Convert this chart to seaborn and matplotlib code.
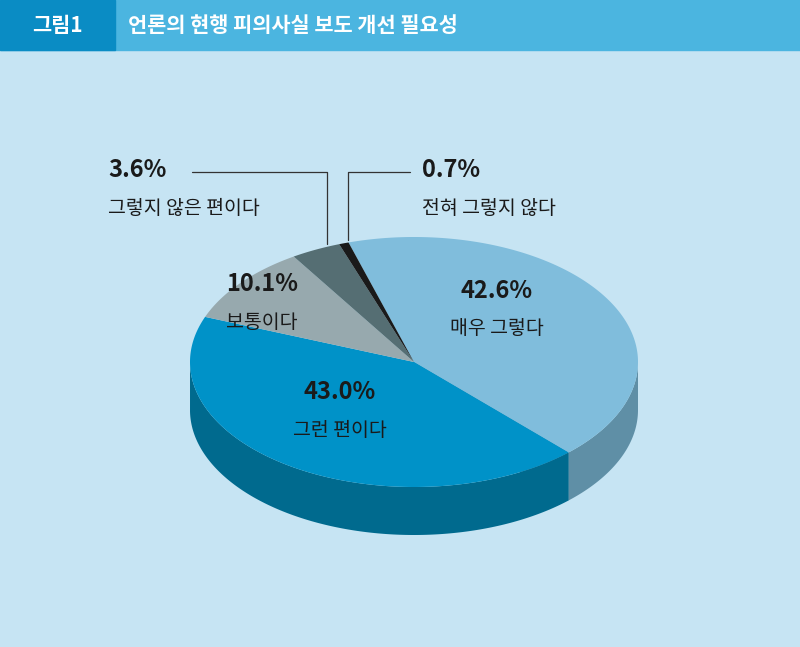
import numpy as np
import matplotlib
matplotlib.use("Agg")
import matplotlib.pyplot as plt
import seaborn as sns
from matplotlib.patches import Polygon, Rectangle

sns.set_theme(style="white")
plt.rcParams["font.family"] = ["Noto Sans CJK KR", "Noto Sans CJK JP", "Noto Sans CJK SC", "Noto Sans CJK TC", "DejaVu Sans"]

categories = ["매우 그렇다", "그런 편이다", "보통이다", "그렇지 않은 편이다", "전혀 그렇지 않다"]
values = [42.6, 43.0, 10.1, 3.6, 0.7]
top_colors = ["#80bddc", "#0092c8", "#97a9ae", "#556e73", "#1a1a1a"]
side_colors = ["#5f8fa6", "#006a8e", "#738388", "#3d5053", "#111111"]

W, H = 800, 647
fig = plt.figure(figsize=(8, 6.47), dpi=100)
ax = fig.add_axes([0, 0, 1, 1])
ax.set_xlim(0, W); ax.set_ylim(H, 0); ax.axis("off")
ax.add_patch(Rectangle((0, 0), W, H, color="#c6e4f3", zorder=0))
ax.add_patch(Rectangle((0, 0), W, 50, color="#4bb5e0", zorder=1))
ax.add_patch(Rectangle((0, 0), 115, 50, color="#0a8cc4", zorder=2))
ax.text(57, 26, "그림1", color="white", fontsize=15, fontweight="bold", ha="center", va="center", zorder=3)
ax.text(128, 26, "언론의 현행 피의사실 보도 개선 필요성", color="white", fontsize=15, fontweight="bold", ha="left", va="center", zorder=3)

cx, cy, rx, ry, depth = 414, 362, 224, 125, 48
start = 107.0

def pt(t, dy=0):
    r = np.radians(t)
    return cx + rx*np.cos(r), cy - ry*np.sin(r) + dy

angles = []
a = start
for v in values:
    b = a - v/100*360
    angles.append((a, b)); a = b

for (a, b), col in zip(angles, side_colors):
    ts = np.linspace(b, a, 200)
    front = [t for t in ts if np.sin(np.radians(t)) < 0]
    if len(front) < 2:
        continue
    top = [pt(t) for t in front]
    bot = [pt(t, depth) for t in front[::-1]]
    ax.add_patch(Polygon(top + bot, closed=True, color=col, zorder=4, lw=0))
b = angles[0][1]
ax.add_patch(Polygon([(cx, cy), pt(b), pt(b, depth), (cx, cy+depth)], closed=True, color=side_colors[0], zorder=3.5, lw=0))

for (a, b), col in zip(angles, top_colors):
    ts = np.linspace(a, b, 200)
    pts = [(cx, cy)] + [pt(t) for t in ts]
    ax.add_patch(Polygon(pts, closed=True, color=col, zorder=5, lw=0))

def lab(x, y, pct, name, ha="center"):
    ax.text(x, y, pct, fontsize=17, fontweight="bold", color="#1a1a1a", ha=ha, va="center", zorder=6)
    ax.text(x, y+38, name, fontsize=14, color="#1a1a1a", ha=ha, va="center", zorder=6)

lab(497, 291, f"{values[0]}%", categories[0])
lab(340, 392, f"{values[1]}%", categories[1])
lab(262, 284, f"{values[2]}%", categories[2])
lab(108, 170, f"{values[3]}%", categories[3], ha="left")
lab(422, 170, f"{values[4]}%", categories[4], ha="left")
ax.plot([192, 327, 327], [172, 172, 244], color="#333333", lw=0.9, zorder=6)
ax.plot([410, 348, 348], [172, 172, 240], color="#333333", lw=0.9, zorder=6)

fig.savefig("out.png", dpi=100)
